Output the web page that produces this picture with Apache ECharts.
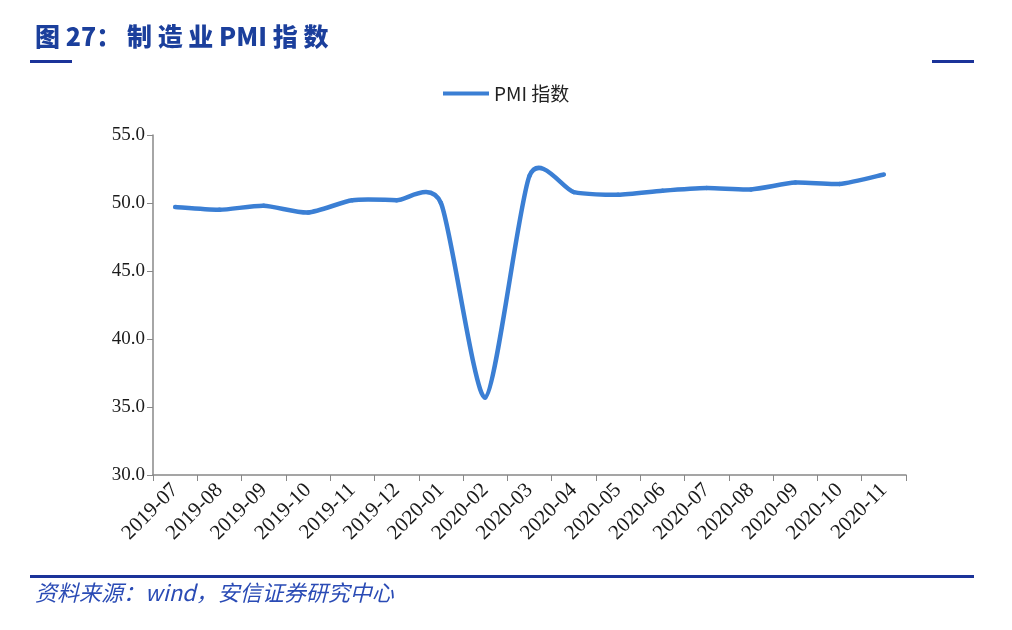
<!DOCTYPE html>
<html><head><meta charset="utf-8">
<script src="https://cdn.jsdelivr.net/npm/echarts@6/dist/echarts.min.js"></script>
<style>html,body{margin:0;padding:0;background:#fff;}#c{width:1012px;height:630px;}</style>
</head><body><div id="c"></div>
<script>
const categories = ['2019-07','2019-08','2019-09','2019-10','2019-11','2019-12','2020-01','2020-02','2020-03','2020-04','2020-05','2020-06','2020-07','2020-08','2020-09','2020-10','2020-11'];
const pmiValues = [49.7,49.5,49.8,49.3,50.2,50.2,50.0,35.7,52.0,50.8,50.6,50.9,51.1,51.0,51.5,51.4,52.1];
const seriesName = 'PMI 指数';
const titleText = '图 27： 制 造 业 PMI 指 数';
const sourceText = '资料来源：wind，安信证券研究中心';

const LINE_COLOR = '#3b7fd4';
const TENSION = 0.7;

function renderSegment(params, api) {
  const i = params.dataIndex;
  const n = pmiValues.length;
  if (i >= n - 1) return null;
  const pt = j => api.coord([Math.max(0, Math.min(n - 1, j)), pmiValues[Math.max(0, Math.min(n - 1, j))]]);
  const p0 = pt(i - 1), p1 = pt(i), p2 = pt(i + 1), p3 = pt(i + 2);
  const k = TENSION / 6;
  return {
    type: 'bezierCurve',
    shape: {
      x1: p1[0], y1: p1[1], x2: p2[0], y2: p2[1],
      cpx1: p1[0] + (p2[0] - p0[0]) * k, cpy1: p1[1] + (p2[1] - p0[1]) * k,
      cpx2: p2[0] - (p3[0] - p1[0]) * k, cpy2: p2[1] - (p3[1] - p1[1]) * k
    },
    style: {stroke: LINE_COLOR, lineWidth: 4.5, fill: null, lineCap: 'round'}
  };
}

const chart = echarts.init(document.getElementById('c'));
chart.setOption({
  backgroundColor: '#fff',
  animation: false,
  legend: {
    top: 79, left: 438,
    itemWidth: 46, itemHeight: 4, itemGap: 8,
    textStyle: {fontFamily: 'Noto Sans CJK SC', fontSize: 19, color: '#222'},
    data: [{name: seriesName, icon: 'rect', itemStyle: {color: LINE_COLOR}}]
  },
  grid: {left: 153, right: 106, top: 135, bottom: 155},
  xAxis: {
    type: 'category', data: categories, boundaryGap: true,
    axisLine: {lineStyle: {color: '#888', width: 1.5}},
    axisTick: {show: true, length: 6, lineStyle: {color: '#888'}},
    axisLabel: {rotate: 45, fontFamily: 'Liberation Serif', fontSize: 21, color: '#1a1a1a', margin: 12, interval: 0}
  },
  yAxis: {
    type: 'value', min: 30, max: 55, interval: 5,
    axisLine: {show: true, lineStyle: {color: '#888', width: 1.5}},
    axisTick: {show: true, length: 6, lineStyle: {color: '#888'}},
    splitLine: {show: false},
    axisLabel: {formatter: v => v.toFixed(1), fontFamily: 'Liberation Serif', fontSize: 19, color: '#1a1a1a', margin: 8}
  },
  series: [{
    name: seriesName, type: 'custom',
    data: categories.map((c, i) => [i, pmiValues[i]]),
    encode: {x: 0, y: 1},
    renderItem: renderSegment,
    itemStyle: {color: LINE_COLOR},
    clip: false
  }],
  graphic: [
    {type: 'text', left: 35, top: 24, style: {text: titleText, fontFamily: 'Noto Sans CJK SC', fontWeight: 900, fontSize: 25, fill: '#1b3f9c'}},
    {type: 'rect', shape: {x: 30, y: 60, width: 42, height: 3}, style: {fill: '#1b3399'}},
    {type: 'rect', shape: {x: 932, y: 60, width: 42, height: 3}, style: {fill: '#1b3399'}},
    {type: 'rect', shape: {x: 30, y: 575, width: 944, height: 3}, style: {fill: '#1b3399'}},
    {type: 'text', left: 35, top: 582, style: {text: sourceText, fontFamily: 'Noto Sans CJK SC', fontStyle: 'italic', fontSize: 22, fill: '#2a4bb5'}}
  ]
});
</script></body></html>
